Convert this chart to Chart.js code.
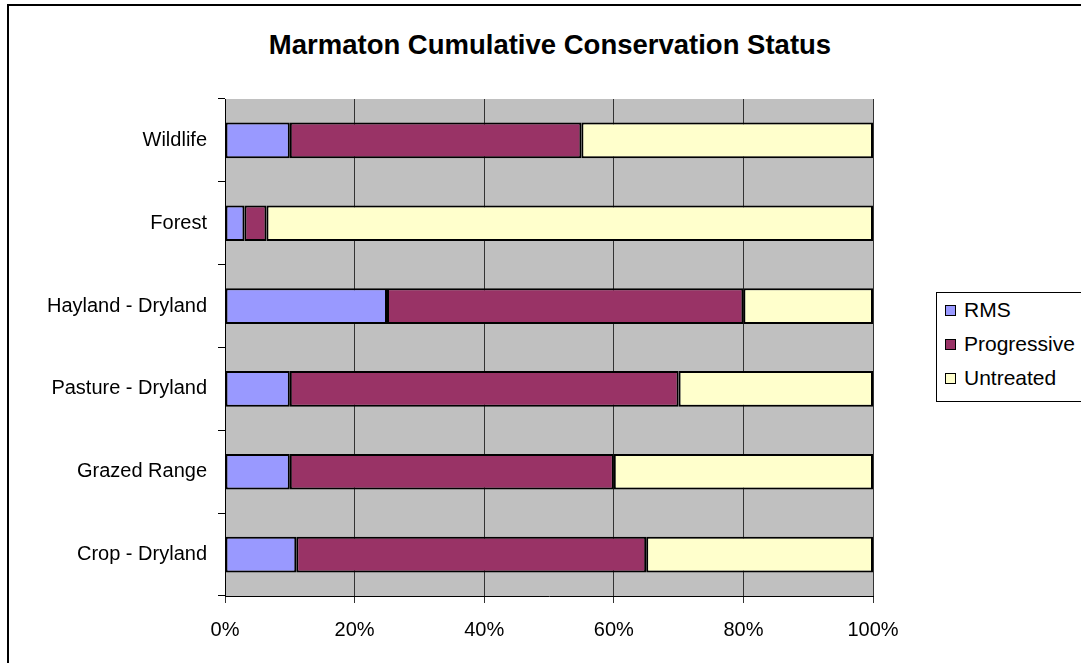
<!DOCTYPE html>
<html>
<head>
<meta charset="utf-8">
<script src="https://cdn.jsdelivr.net/npm/chart.js@4/dist/chart.umd.min.js"></script>
<style>
  html, body { margin: 0; padding: 0; background: #fff; overflow: hidden; }
  #wrap { position: relative; width: 1081px; height: 663px; overflow: hidden; }
  #frame { position: absolute; left: 7px; top: 4px; width: 1200px; height: 800px; border: 2px solid #000; box-sizing: border-box; }
  #title { position: absolute; left: 0; width: 1100px; top: 29px; text-align: center;
           font: bold 27.5px "Liberation Sans", Arial, sans-serif; color: #000; }
  #legend { position: absolute; left: 936px; top: 292px; width: 200px; height: 110px;
            border: 1px solid #000; box-sizing: border-box; background: #fff;
            font: 21px "Liberation Sans", Arial, sans-serif; color: #000; }
  .item { position: absolute; left: 8px; height: 24px; line-height: 24px; white-space: nowrap; }
  .sw { display: inline-block; width: 9px; height: 9px; border: 1px solid #000; margin-right: 8px; vertical-align: 1px; }
  canvas { position: absolute; left: 0; top: 0; }
</style>
</head>
<body>
<div id="wrap">
  <div id="frame"></div>
  <div id="title">Marmaton Cumulative Conservation Status</div>
  <canvas id="myChart" width="1081" height="663"></canvas>
  <div id="legend"></div>
</div>
<script>
  const categories = ['Wildlife', 'Forest', 'Hayland - Dryland', 'Pasture - Dryland', 'Grazed Range', 'Crop - Dryland'];
  const seriesNames = ['RMS', 'Progressive', 'Untreated'];
  const rms = [10, 3, 25, 10, 10, 11];
  const progressive = [45, 3.4, 55, 60, 50, 54];
  const untreated = [45, 93.6, 20, 30, 40, 35];
  const colors = ['#9999FF', '#993366', '#FFFFCC'];
  const xTicks = [0, 20, 40, 60, 80, 100];

  // grey plot background
  const plotBg = {
    id: 'plotBg',
    beforeDraw(chart) {
      const a = chart.chartArea, ctx = chart.ctx;
      ctx.save();
      ctx.fillStyle = '#C0C0C0';
      ctx.fillRect(a.left, a.top, a.right - a.left, a.bottom - a.top);
      ctx.restore();
    }
  };

  const ctx = document.getElementById('myChart').getContext('2d');
  new Chart(ctx, {
    type: 'bar',
    data: {
      labels: categories,
      datasets: [rms, progressive, untreated].map((d, i) => ({
        label: seriesNames[i],
        data: d,
        backgroundColor: colors[i],
        borderColor: '#000',
        borderWidth: 2,
        borderSkipped: false,
        barPercentage: 1,
        categoryPercentage: 0.43
      }))
    },
    options: {
      indexAxis: 'y',
      responsive: false,
      animation: false,
      devicePixelRatio: 1,
      layout: { padding: { left: 0, top: 99, right: 208, bottom: 20 } },
      plugins: { legend: { display: false }, title: { display: false }, tooltip: { enabled: false } },
      scales: {
        x: {
          stacked: true,
          min: 0, max: 100,
          afterBuildTicks(scale) { scale.ticks = xTicks.map(v => ({ value: v })); },
          afterFit(scale) { scale.height = 47; },
          ticks: {
            callback: v => v + '%',
            color: '#000',
            padding: 15,
            maxRotation: 0,
            font: { family: '"Liberation Sans", Arial, sans-serif', size: 20 }
          },
          grid: { color: '#333', lineWidth: 1, tickLength: 7, drawOnChartArea: true },
          border: { color: '#000', width: 1 }
        },
        y: {
          stacked: true,
          afterFit(scale) { scale.width = 225; },
          ticks: {
            color: '#000',
            padding: 11,
            font: { family: '"Liberation Sans", Arial, sans-serif', size: 20 }
          },
          grid: { offset: true, drawOnChartArea: false, color: '#000', tickLength: 7 },
          border: { color: '#000', width: 1 }
        }
      }
    },
    plugins: [plotBg]
  });

  // legend
  const legend = document.getElementById('legend');
  seriesNames.forEach((name, i) => {
    const el = document.createElement('div');
    el.className = 'item';
    el.style.top = (5 + i * 34) + 'px';
    el.innerHTML = '<span class="sw" style="background:' + colors[i] + '"></span>' + name;
    legend.appendChild(el);
  });
</script>
</body>
</html>
